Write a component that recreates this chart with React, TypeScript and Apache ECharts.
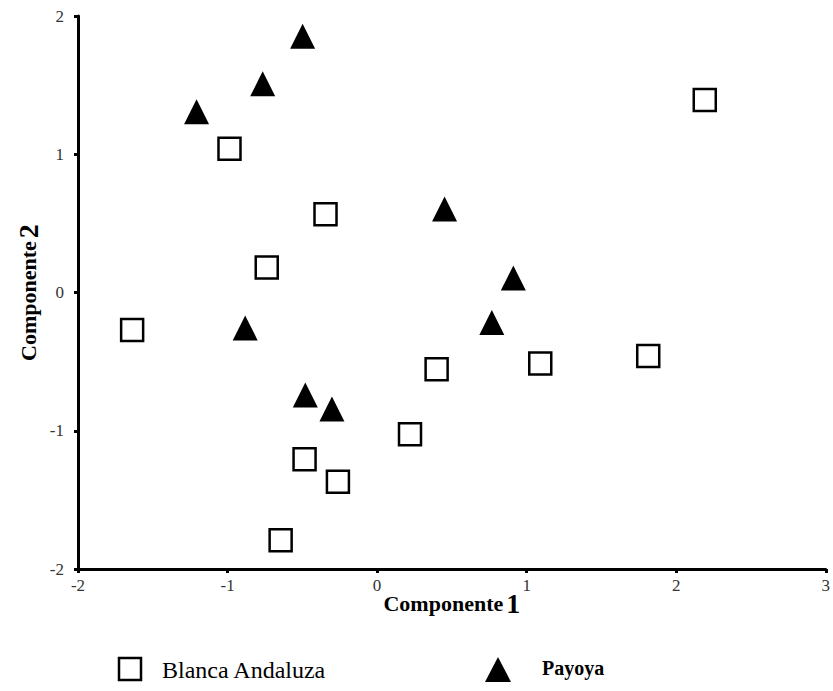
import React, { useEffect, useRef } from "react";
import * as echarts from "echarts";

// Blanca Andaluza scores on the first two principal components
const blancaC1 = [-1.638, -0.987, -0.345, -0.738, 2.191, 0.398, 1.091, 1.813, 0.22, -0.485, -0.262, -0.645];
const blancaC2 = [-0.272, 1.04, 0.566, 0.181, 1.392, -0.556, -0.513, -0.46, -1.026, -1.207, -1.368, -1.792];

// Payoya scores on the first two principal components
const payoyaC1 = [-0.498, -0.765, -1.207, 0.451, 0.911, 0.767, -0.882, -0.48, -0.302];
const payoyaC2 = [1.854, 1.51, 1.308, 0.604, 0.105, -0.217, -0.256, -0.742, -0.843];

const seriesNames = ["Blanca Andaluza", "Payoya"];
const xTicks = [-2, -1, 0, 1, 2, 3];
const yTicks = [-2, -1, 0, 1, 2];

const FONT = "Liberation Serif";

export default function App() {
  const ref = useRef<HTMLDivElement>(null);

  useEffect(() => {
    if (!ref.current) return;
    const chart = echarts.init(ref.current, null, { renderer: "svg" });

    const blanca = blancaC1.map((x, i) => [x, blancaC2[i]]);
    const payoya = payoyaC1.map((x, i) => [x, payoyaC2[i]]);

    const axisCommon = {
      type: "value" as const,
      interval: 1,
      axisLine: { show: true, onZero: false, lineStyle: { color: "#000", width: 3 } },
      axisTick: { show: true, inside: false, length: 4, lineStyle: { color: "#000", width: 3 } },
      splitLine: { show: false },
      nameMoveOverlap: false,
    };

    const nameRich = {
      a: { fontFamily: FONT, fontWeight: "bold" as const, fontSize: 22, color: "#000" },
      b: { fontFamily: FONT, fontWeight: "bold" as const, fontSize: 28, color: "#000" },
    };

    const labelStyle = {
      fontFamily: FONT,
      fontSize: 17,
      color: "#333",
      formatter: (v: number) => String(v),
    };

    chart.setOption({
      animation: false,
      backgroundColor: "#fff",
      textStyle: { fontFamily: FONT },
      grid: { left: 78, right: 6, top: 16, bottom: 122, containLabel: false },
      xAxis: {
        ...axisCommon,
        min: xTicks[0],
        max: xTicks[xTicks.length - 1],
        axisLabel: { ...labelStyle, margin: 8 },
        name: "{a|Componente} {b|1}",
        nameLocation: "middle",
        nameGap: 20,
        nameTextStyle: { fontFamily: FONT, rich: nameRich },
      },
      yAxis: {
        ...axisCommon,
        min: yTicks[0],
        max: yTicks[yTicks.length - 1],
        axisLabel: { ...labelStyle, margin: 14 },
        name: "{a|Componente} {b|2}",
        nameLocation: "middle",
        nameGap: 36,
        nameRotate: 90,
        nameTextStyle: { fontFamily: FONT, rich: nameRich },
      },
      series: [
        {
          name: seriesNames[0],
          type: "scatter",
          data: blanca,
          symbol: "rect",
          symbolSize: 22,
          itemStyle: { color: "#fff", borderColor: "#000", borderWidth: 2.5, opacity: 1 },
          z: 3,
        },
        {
          name: seriesNames[1],
          type: "scatter",
          data: payoya,
          symbol: "triangle",
          symbolSize: 25,
          itemStyle: { color: "#000", opacity: 1 },
          z: 4,
        },
      ],
      graphic: [
        {
          type: "rect",
          shape: { x: 119, y: 658, width: 22, height: 22 },
          style: { fill: "#fff", stroke: "#000", lineWidth: 2.5 },
        },
        {
          type: "text",
          x: 162,
          y: 670,
          style: {
            text: seriesNames[0],
            fontFamily: FONT,
            fontSize: 24,
            fill: "#000",
            verticalAlign: "middle",
          },
        },
        {
          type: "polygon",
          shape: { points: [[498, 657], [485, 682], [511, 682]] },
          style: { fill: "#000" },
        },
        {
          type: "text",
          x: 542,
          y: 668,
          style: {
            text: seriesNames[1],
            fontFamily: FONT,
            fontWeight: "bold",
            fontSize: 20,
            fill: "#000",
            verticalAlign: "middle",
          },
        },
      ],
    });

    return () => chart.dispose();
  }, []);

  return <div ref={ref} style={{ width: 833, height: 691, position: "absolute", left: 0, top: 0 }} />;
}
